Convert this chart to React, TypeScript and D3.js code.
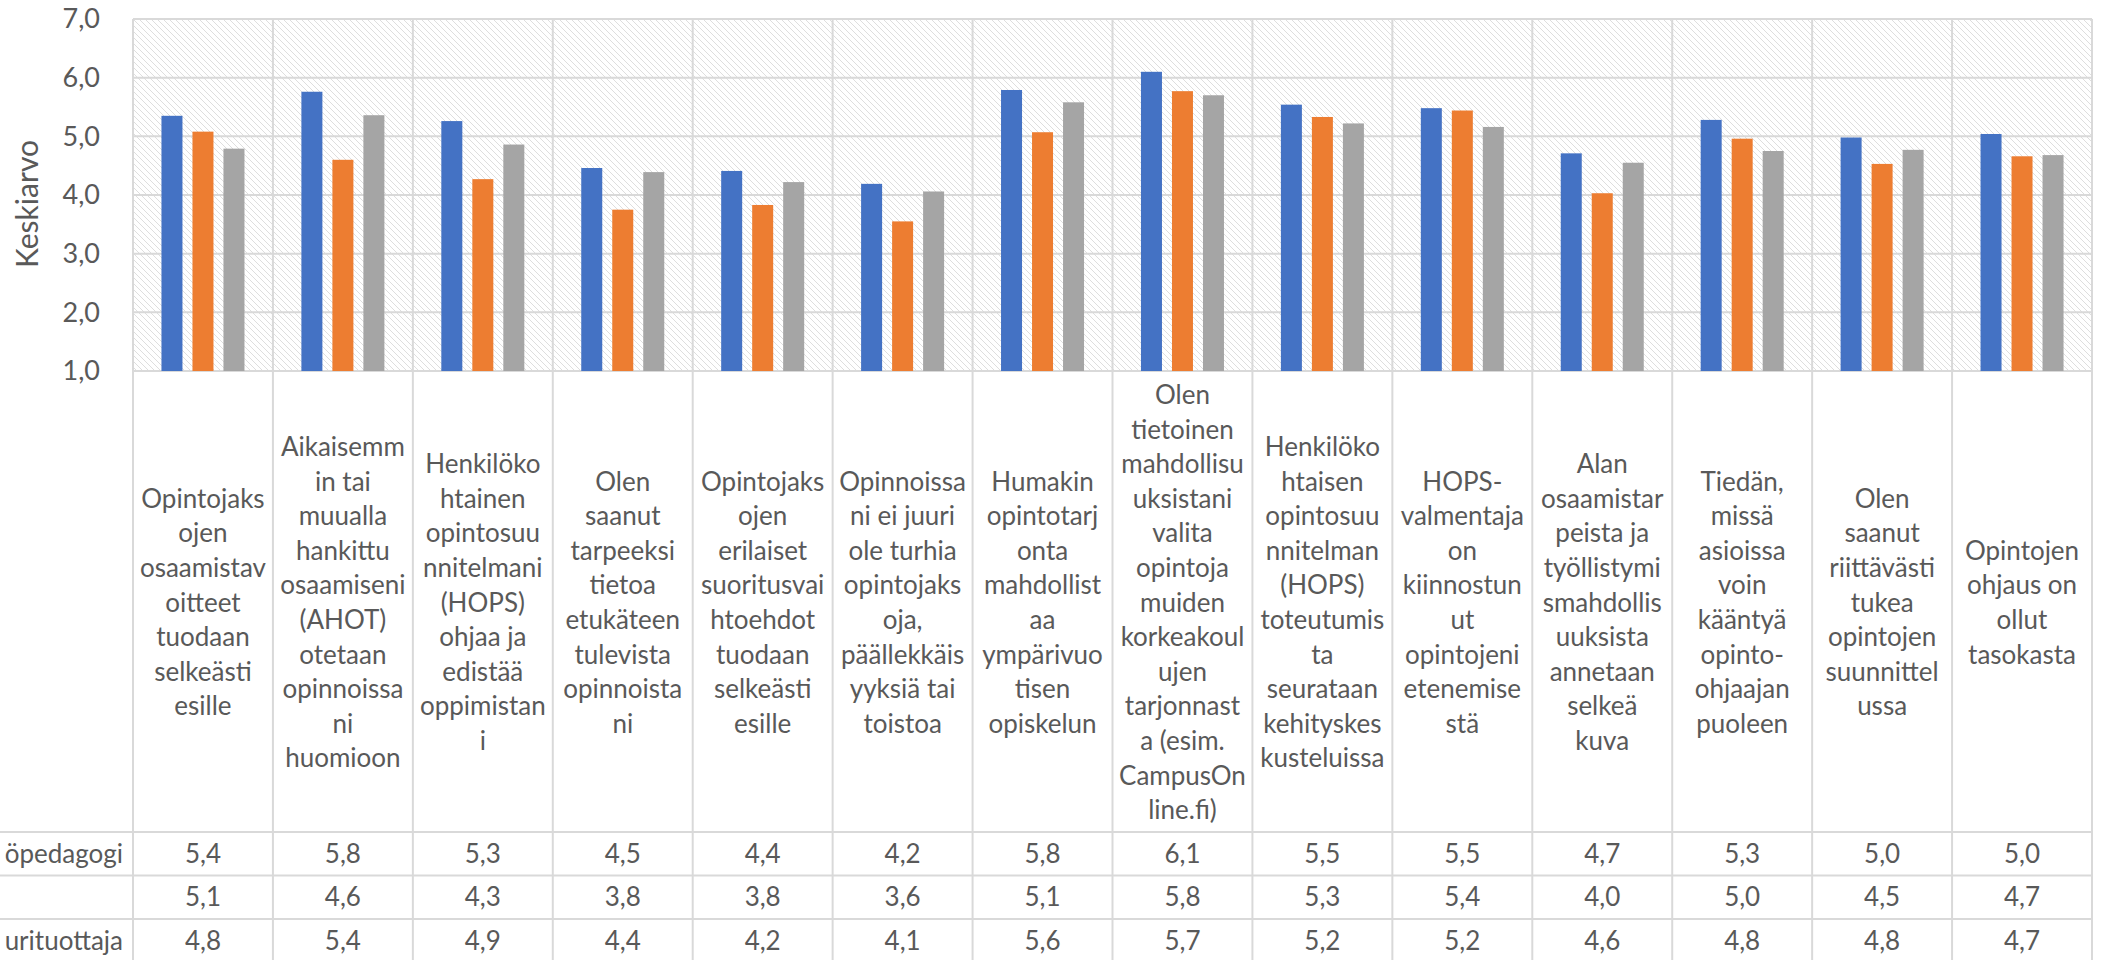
import React from "react";
import * as d3 from "d3";

const categories: string[][] = [
  ["Opintojaks", "ojen", "osaamistav", "oitteet", "tuodaan", "selkeästi", "esille"],
  ["Aikaisemm", "in tai", "muualla", "hankittu", "osaamiseni", "(AHOT)", "otetaan", "opinnoissa", "ni", "huomioon"],
  ["Henkilöko", "htainen", "opintosuu", "nnitelmani", "(HOPS)", "ohjaa ja", "edistää", "oppimistan", "i"],
  ["Olen", "saanut", "tarpeeksi", "tietoa", "etukäteen", "tulevista", "opinnoista", "ni"],
  ["Opintojaks", "ojen", "erilaiset", "suoritusvai", "htoehdot", "tuodaan", "selkeästi", "esille"],
  ["Opinnoissa", "ni ei juuri", "ole turhia", "opintojaks", "oja,", "päällekkäis", "yyksiä tai", "toistoa"],
  ["Humakin", "opintotarj", "onta", "mahdollist", "aa", "ympärivuo", "tisen", "opiskelun"],
  ["Olen", "tietoinen", "mahdollisu", "uksistani", "valita", "opintoja", "muiden", "korkeakoul", "ujen", "tarjonnast", "a (esim.", "CampusOn", "line.fi)"],
  ["Henkilöko", "htaisen", "opintosuu", "nnitelman", "(HOPS)", "toteutumis", "ta", "seurataan", "kehityskes", "kusteluissa"],
  ["HOPS-", "valmentaja", "on", "kiinnostun", "ut", "opintojeni", "etenemise", "stä"],
  ["Alan", "osaamistar", "peista ja", "työllistymi", "smahdollis", "uuksista", "annetaan", "selkeä", "kuva"],
  ["Tiedän,", "missä", "asioissa", "voin", "kääntyä", "opinto-", "ohjaajan", "puoleen"],
  ["Olen", "saanut", "riittävästi", "tukea", "opintojen", "suunnittel", "ussa"],
  ["Opintojen", "ohjaus on", "ollut", "tasokasta"],
];

const seriesNames = ["öpedagogi", "", "urituottaja"];
const seriesColors = ["#4472C4", "#ED7D31", "#A5A5A5"];

const series1 = [5.35, 5.76, 5.26, 4.46, 4.41, 4.19, 5.79, 6.1, 5.54, 5.48, 4.71, 5.28, 4.98, 5.04];
const series2 = [5.08, 4.6, 4.27, 3.75, 3.83, 3.55, 5.07, 5.77, 5.33, 5.44, 4.03, 4.96, 4.53, 4.66];
const series3 = [4.79, 5.36, 4.86, 4.39, 4.22, 4.06, 5.58, 5.7, 5.22, 5.16, 4.55, 4.75, 4.77, 4.68];
const allSeries = [series1, series2, series3];

const yTicks = [1, 2, 3, 4, 5, 6, 7];
const yLabel = "Keskiarvo";

const W = 2103;
const H = 960;
const plotLeft = 133;
const plotRight = 2092;
const plotTop = 19;
const plotBottom = 371;
const labelBottom = 832;
const rowH = 43.5;

const FONT = "Lato, 'Open Sans', sans-serif";
const TXT = "#595959";
const GRID = "#d9d9d9";

const fmt = (v: number) => v.toFixed(1).replace(".", ",");

export default function App() {
  const idx = categories.map((_, i) => String(i));
  const x = d3.scaleBand<string>().domain(idx).range([plotLeft, plotRight]).paddingInner(0).paddingOuter(0);
  const cw = x.bandwidth();
  const xs = d3
    .scaleBand<string>()
    .domain(["0", "1", "2"])
    .range([0, cw])
    .paddingInner(10 / 31)
    .paddingOuter(0.918);
  const y = d3.scaleLinear().domain([1, 7]).range([plotBottom, plotTop]);

  const labelMid = (plotBottom + labelBottom) / 2 + 1;
  const lineH = 34.6;

  return (
    <svg width={W} height={H} style={{ position: "absolute", left: 0, top: 0, background: "#fff" }}>
      <defs>
        <pattern id="hatch" patternUnits="userSpaceOnUse" width={6} height={6}>
          <rect width={6} height={6} fill="#ffffff" />
          <path d="M-1,-1 L7,7 M-1,5 L1,7 M5,-1 L7,1" stroke="#dedede" strokeWidth={1} />
        </pattern>
      </defs>
      <rect x={plotLeft} y={plotTop} width={plotRight - plotLeft} height={plotBottom - plotTop} fill="url(#hatch)" />

      {yTicks.map((t) => (
        <g key={t}>
          <line x1={plotLeft} x2={plotRight} y1={y(t)} y2={y(t)} stroke={GRID} strokeWidth={2} />
          <text x={100} y={y(t)} dy="0.35em" textAnchor="end" fontFamily={FONT} fontSize={27} fill={TXT}>
            {fmt(t)}
          </text>
        </g>
      ))}

      <text
        transform={`translate(38, 204) rotate(-90)`}
        textAnchor="middle"
        fontFamily={FONT}
        fontSize={30}
        fill={TXT}
      >
        {yLabel}
      </text>

      {/* vertical category dividers */}
      {d3.range(categories.length + 1).map((i) => {
        const xx = plotLeft + i * cw;
        return <line key={i} x1={xx} x2={xx} y1={plotTop} y2={H} stroke={GRID} strokeWidth={2} />;
      })}

      {/* table rows */}
      {d3.range(3).map((r) => {
        const yy = labelBottom + r * rowH;
        return <line key={r} x1={0} x2={plotRight} y1={yy} y2={yy} stroke={GRID} strokeWidth={2} />;
      })}

      {/* bars */}
      {allSeries.map((s, si) =>
        s.map((v, ci) => (
          <rect
            key={`${si}-${ci}`}
            x={(x(String(ci)) as number) + (xs(String(si)) as number)}
            y={y(v)}
            width={xs.bandwidth()}
            height={y(1) - y(v)}
            fill={seriesColors[si]}
          />
        ))
      )}

      {/* category labels */}
      {categories.map((lines, ci) => {
        const cx = (x(String(ci)) as number) + cw / 2;
        const start = labelMid - ((lines.length - 1) * lineH) / 2;
        return (
          <text key={ci} textAnchor="middle" fontFamily={FONT} fontSize={26} fill={TXT}>
            {lines.map((ln, li) => (
              <tspan key={li} x={cx} y={start + li * lineH} dy="0.35em">
                {ln}
              </tspan>
            ))}
          </text>
        );
      })}

      {/* table values */}
      {allSeries.map((s, si) => {
        const cy = labelBottom + si * rowH + rowH / 2;
        return (
          <g key={si}>
            <text x={123} y={cy} dy="0.35em" textAnchor="end" fontFamily={FONT} fontSize={26} fill={TXT}>
              {seriesNames[si]}
            </text>
            {s.map((v, ci) => (
              <text
                key={ci}
                x={(x(String(ci)) as number) + cw / 2}
                y={cy}
                dy="0.35em"
                textAnchor="middle"
                fontFamily={FONT}
                fontSize={26}
                fill={TXT}
              >
                {fmt(Math.round(v * 10) / 10)}
              </text>
            ))}
          </g>
        );
      })}
    </svg>
  );
}
